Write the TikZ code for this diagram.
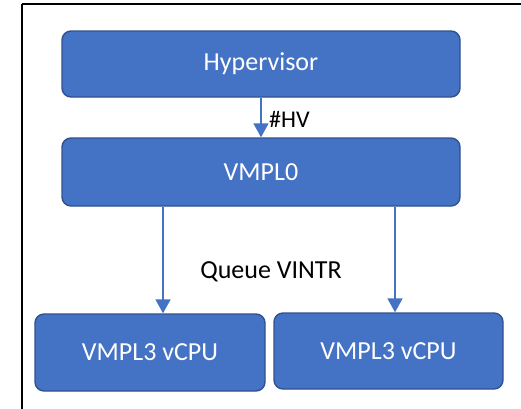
\documentclass[tikz,border=0pt]{standalone}
\usepackage{fontspec}
\setmainfont{Carlito}
\usetikzlibrary{arrows.meta}
\definecolor{boxfill}{HTML}{4472C4}
\definecolor{boxline}{HTML}{2F528F}
\tikzset{
  blk/.style={draw=boxline, fill=boxfill, line width=1.4pt, rounded corners=9pt,
    text=white, font=\fontsize{26}{30}\selectfont, inner sep=0pt},
  arr/.style={draw=boxfill, line width=1.6pt,
    -{Triangle[width=15pt,length=14pt]}},
  lbl/.style={text=black, inner sep=0pt}
}
\begin{document}
\begin{tikzpicture}[x=1pt,y=-1pt]
\useasboundingbox (0,0) rectangle (521,408);
% enclosing frame (only top and left edges fall inside the page)
\draw[line width=2pt] (21.5,4) -- (530,4);
\draw[line width=2pt] (21.5,4) -- (21.5,415);

\node[blk, minimum width=398, minimum height=66] (hv) at (261,64) {Hypervisor};
\node[blk, minimum width=398, minimum height=68] (v0) at (261,172) {VMPL0};
\node[blk, minimum width=230, minimum height=77] (c1) at (150,352.5) {VMPL3 vCPU};
\node[blk, minimum width=229, minimum height=76] (c2) at (388.5,351) {VMPL3 vCPU};

\draw[arr] (hv.south) -- (v0.north);
\node[lbl, anchor=west, font=\fontsize{24}{28}\selectfont] (hvl) at (269,119) {\#HV};

\coordinate (lx) at (163,0);
\coordinate (rx) at (395,0);
\draw[arr] (v0.south -| lx) -- (c1.north -| lx);
\draw[arr] (v0.south -| rx) -- (c2.north -| rx);
\node[lbl, font=\fontsize{26}{30}\selectfont] (q) at (271,272) {Queue VINTR};
\end{tikzpicture}
\end{document}
